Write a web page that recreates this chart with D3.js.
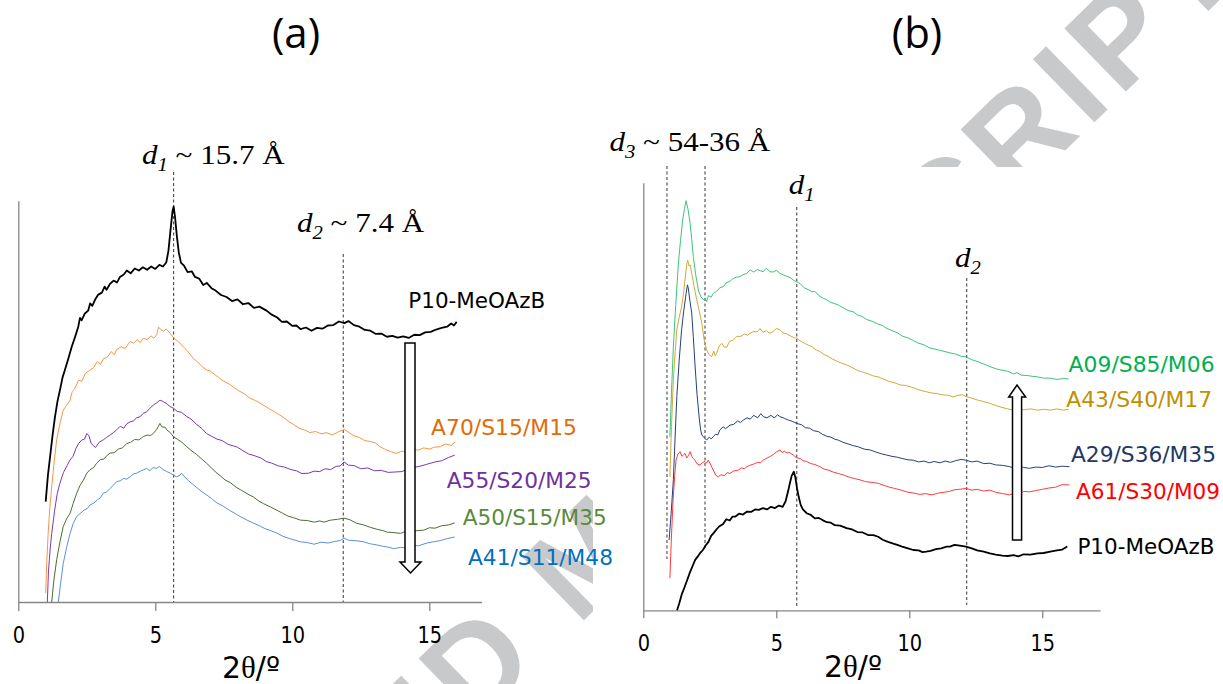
<!DOCTYPE html>
<html><head><meta charset="utf-8">
<script src="https://cdn.jsdelivr.net/npm/d3@7"></script>
<style>
html,body{margin:0;padding:0;background:#fff;}
svg{display:block;}
.sans{font-family:"DejaVu Sans",Verdana,sans-serif;}
.serif{font-family:"Liberation Serif","Times New Roman",serif;}
.wm{font-family:"Liberation Sans",Arial,sans-serif;font-weight:bold;}
</style>
</head><body>
<svg id="chart" width="1223" height="684"></svg>
<script>
// ---------------- DATA ----------------
const xTicks = [0, 5, 10, 15];
const panelTitles = ["(a)", "(b)"];
const axisTitle = "2θ/º";

// Panel (a) series: [2θ, intensity (a.u.)]
const aP10 = [[1.00,25.0],[1.08,31.5],[1.16,36.2],[1.25,41.5],[1.34,46.2],[1.43,50.0],[1.52,52.8],[1.61,55.8],[1.70,57.8],[1.82,60.5],[1.95,63.6],[2.07,66.0],[2.19,68.6],[2.25,70.8],[2.31,70.2],[2.43,71.9],[2.55,72.6],[2.62,74.4],[2.70,73.8],[2.80,75.3],[2.92,76.6],[3.05,77.1],[3.15,78.6],[3.22,77.8],[3.35,79.3],[3.48,80.1],[3.60,79.6],[3.71,81.0],[3.85,81.6],[3.96,82.6],[4.10,81.9],[4.25,83.1],[4.40,82.6],[4.55,83.4],[4.70,82.8],[4.85,83.6],[5.00,83.0],[5.15,84.0],[5.28,83.6],[5.40,84.6],[5.48,87.5],[5.56,93.0],[5.63,97.5],[5.67,98.5],[5.72,96.0],[5.79,91.0],[5.86,87.0],[5.94,84.5],[6.05,83.8],[6.18,82.2],[6.33,82.4],[6.45,81.0],[6.60,80.6],[6.75,79.0],[6.88,79.5],[7.05,78.2],[7.20,77.6],[7.40,76.5],[7.60,76.0],[7.80,75.0],[8.00,75.4],[8.20,74.2],[8.40,74.5],[8.60,73.3],[8.80,73.6],[9.06,72.6],[9.25,71.6],[9.45,70.9],[9.62,69.8],[9.80,69.9],[10.00,68.8],[10.15,68.9],[10.30,68.0],[10.50,68.4],[10.70,67.6],[10.90,68.3],[11.10,68.1],[11.30,68.9],[11.50,69.0],[11.70,69.9],[11.90,69.5],[12.05,70.0],[12.25,69.0],[12.45,68.6],[12.65,67.8],[12.85,67.6],[13.05,66.8],[13.25,66.9],[13.45,66.1],[13.65,66.3],[13.85,65.9],[14.05,66.2],[14.25,65.8],[14.45,66.6],[14.65,66.5],[14.85,67.2],[15.05,67.3],[15.25,67.9],[15.45,68.3],[15.65,68.6],[15.80,69.4],[15.90,68.9],[16.00,69.8]];
const aA70 = [[1.00,2.2],[1.04,10],[1.09,17.1],[1.15,23.5],[1.22,28.7],[1.31,35.0],[1.40,40.4],[1.52,44.5],[1.64,47.8],[1.76,49.0],[1.89,50.3],[1.97,52.5],[2.05,53.0],[2.20,55.3],[2.32,55.0],[2.45,57.0],[2.62,57.8],[2.75,58.4],[2.88,59.9],[3.00,59.2],[3.10,60.6],[3.25,61.0],[3.40,62.4],[3.50,61.6],[3.59,62.9],[3.75,63.6],[3.90,63.2],[4.08,64.9],[4.20,64.5],[4.35,65.4],[4.45,64.6],[4.56,65.7],[4.70,65.4],[4.85,66.3],[4.95,65.7],[5.05,66.6],[5.12,68.5],[5.20,67.9],[5.30,67.5],[5.40,68.0],[5.54,67.0],[5.66,65.9],[5.80,65.1],[5.90,64.5],[6.05,63.4],[6.20,62.3],[6.39,60.7],[6.55,59.8],[6.70,58.7],[6.87,57.8],[7.00,57.6],[7.11,57.0],[7.30,56.0],[7.50,55.0],[7.70,54.3],[7.84,53.6],[8.05,52.6],[8.25,51.9],[8.45,50.8],[8.65,50.2],[8.82,49.6],[9.05,48.6],[9.25,47.8],[9.45,47.0],[9.66,46.1],[9.85,45.1],[10.05,44.2],[10.25,43.3],[10.44,42.9],[10.65,42.2],[10.85,42.5],[11.05,41.9],[11.25,42.2],[11.45,41.6],[11.65,42.3],[11.90,43.0],[12.05,42.3],[12.25,41.4],[12.45,41.0],[12.65,40.2],[12.85,40.0],[13.04,39.6],[13.20,38.7],[13.40,38.0],[13.62,37.4],[13.80,37.0],[14.00,37.6],[14.20,37.2],[14.40,37.9],[14.62,37.9],[14.80,38.4],[15.00,38.1],[15.20,38.6],[15.40,38.7],[15.60,39.4],[15.80,39.0],[15.95,39.9]];
const aA55 = [[1.06,0],[1.10,7.5],[1.16,13.0],[1.22,17.1],[1.32,22.5],[1.42,27.0],[1.52,29.6],[1.65,32.3],[1.78,34.0],[1.89,35.4],[2.00,36.3],[2.10,38.2],[2.20,39.5],[2.32,40.4],[2.42,40.6],[2.50,42.0],[2.58,41.4],[2.66,39.5],[2.75,38.9],[2.82,38.5],[2.95,39.8],[3.10,40.4],[3.22,41.0],[3.35,41.6],[3.47,42.2],[3.59,42.9],[3.72,43.8],[3.85,43.3],[3.96,44.4],[4.08,44.9],[4.20,45.1],[4.32,45.9],[4.45,46.2],[4.56,47.0],[4.68,47.4],[4.80,48.2],[4.93,49.1],[5.05,49.6],[5.17,50.3],[5.27,50.0],[5.40,49.5],[5.54,48.7],[5.66,48.3],[5.80,47.5],[5.95,47.3],[6.15,46.2],[6.30,45.6],[6.50,44.3],[6.70,43.2],[6.87,42.0],[7.05,41.3],[7.25,40.6],[7.45,40.2],[7.65,39.3],[7.85,38.9],[7.99,38.6],[8.20,37.7],[8.40,36.9],[8.60,36.5],[8.85,35.9],[9.05,35.0],[9.25,34.6],[9.50,33.9],[9.72,33.6],[9.95,33.0],[10.15,32.7],[10.35,32.0],[10.59,32.1],[10.80,32.6],[11.00,32.5],[11.20,33.2],[11.40,33.0],[11.60,33.8],[11.75,33.9],[11.89,34.9],[12.05,34.1],[12.25,34.0],[12.50,33.2],[12.75,33.4],[13.00,32.7],[13.25,32.8],[13.50,32.3],[13.76,32.4],[14.00,32.5],[14.20,33.1],[14.49,33.6],[14.70,33.9],[14.95,34.4],[15.21,34.9],[15.45,35.2],[15.70,36.0],[15.93,36.6]];
const aA50 = [[1.22,0],[1.30,5.5],[1.40,10.5],[1.52,15.0],[1.64,18.8],[1.76,20.7],[1.89,22.1],[2.00,24.5],[2.13,27.1],[2.25,29.0],[2.38,30.4],[2.50,32.1],[2.62,33.0],[2.75,33.5],[2.86,34.6],[3.00,35.5],[3.12,35.6],[3.25,36.6],[3.35,37.1],[3.50,37.2],[3.65,38.1],[3.80,38.4],[3.96,39.5],[4.10,39.8],[4.25,40.5],[4.40,40.4],[4.56,41.2],[4.70,41.6],[4.83,41.5],[4.93,42.0],[5.05,43.0],[5.17,44.5],[5.25,43.6],[5.35,43.6],[5.42,42.9],[5.55,42.2],[5.66,41.2],[5.80,40.6],[5.95,39.9],[6.15,38.7],[6.30,37.8],[6.50,36.8],[6.70,35.6],[6.87,34.6],[7.05,33.4],[7.25,32.1],[7.40,31.3],[7.55,30.4],[7.75,29.7],[7.95,28.6],[8.15,27.8],[8.35,27.0],[8.57,26.2],[8.75,25.3],[8.95,24.5],[9.20,23.7],[9.43,22.9],[9.65,22.1],[9.85,21.4],[10.05,21.0],[10.30,20.4],[10.55,20.3],[10.80,19.9],[11.00,20.2],[11.16,19.9],[11.40,20.4],[11.65,20.6],[11.89,20.9],[12.10,20.5],[12.35,19.6],[12.61,19.2],[12.85,18.6],[13.10,18.1],[13.30,17.8],[13.47,17.4],[13.70,17.3],[13.95,17.1],[14.15,17.6],[14.34,17.2],[14.55,17.8],[14.80,17.9],[15.00,18.5],[15.21,18.4],[15.45,19.0],[15.70,19.2],[15.93,19.7]];
const aA41 = [[1.46,0],[1.55,5.0],[1.64,9.6],[1.76,13.5],[1.89,17.1],[2.00,19.5],[2.13,21.3],[2.25,22.0],[2.40,22.9],[2.52,23.3],[2.62,24.2],[2.75,24.6],[2.88,25.4],[3.00,26.0],[3.10,27.1],[3.22,27.4],[3.35,28.3],[3.47,29.1],[3.59,30.0],[3.72,30.2],[3.85,30.8],[3.96,30.6],[4.08,31.2],[4.20,31.9],[4.32,32.1],[4.45,32.6],[4.56,32.9],[4.68,33.3],[4.80,32.7],[4.92,33.5],[5.05,33.3],[5.15,33.8],[5.28,33.0],[5.42,32.5],[5.55,32.1],[5.66,31.6],[5.78,31.2],[5.90,31.6],[5.96,32.1],[6.05,31.3],[6.20,30.3],[6.39,29.2],[6.55,28.3],[6.70,27.5],[6.87,26.7],[7.05,25.8],[7.25,24.7],[7.45,24.0],[7.70,22.9],[7.90,22.1],[8.10,21.3],[8.35,20.4],[8.57,19.7],[8.80,19.0],[9.00,18.3],[9.20,17.8],[9.43,17.2],[9.65,16.4],[9.90,15.8],[10.10,15.4],[10.30,15.0],[10.55,14.8],[10.80,14.4],[11.05,14.9],[11.31,14.7],[11.55,15.1],[11.75,15.3],[11.89,15.9],[12.05,15.4],[12.30,15.3],[12.61,15.0],[12.85,14.5],[13.10,14.2],[13.30,13.9],[13.47,13.7],[13.70,13.3],[13.95,13.6],[14.20,13.5],[14.40,14.1],[14.60,14.0],[14.92,14.7],[15.15,15.0],[15.40,15.3],[15.65,15.8],[15.93,16.2]];

// Panel (b) series
const bA09 = [[1.00,40.6],[1.06,51.0],[1.13,61.6],[1.22,71.5],[1.32,81.2],[1.40,86.5],[1.48,91.3],[1.55,94.0],[1.61,95.8],[1.68,93.8],[1.76,90.5],[1.82,86.8],[1.88,82.7],[1.97,78.5],[2.07,74.9],[2.16,73.4],[2.26,72.6],[2.32,73.1],[2.38,72.2],[2.45,73.6],[2.55,73.2],[2.63,74.1],[2.75,74.6],[2.88,75.4],[3.01,75.7],[3.12,76.6],[3.25,76.9],[3.38,77.6],[3.50,77.9],[3.62,78.0],[3.75,78.5],[3.89,78.8],[4.02,79.6],[4.15,79.1],[4.28,79.7],[4.40,79.4],[4.51,79.2],[4.62,80.0],[4.75,79.2],[4.88,79.1],[5.00,79.5],[5.14,78.8],[5.28,78.4],[5.40,78.1],[5.55,77.7],[5.66,77.1],[5.77,76.8],[5.90,76.4],[6.05,75.4],[6.20,75.0],[6.35,74.5],[6.45,74.6],[6.58,73.7],[6.75,73.0],[6.90,72.6],[7.05,72.0],[7.20,71.7],[7.33,71.4],[7.50,70.8],[7.70,70.1],[7.90,69.8],[8.05,69.1],[8.23,68.7],[8.40,68.0],[8.60,67.6],[8.80,67.0],[9.00,66.6],[9.13,66.0],[9.35,65.4],[9.55,64.9],[9.75,64.1],[9.95,63.7],[10.15,63.1],[10.33,62.5],[10.55,62.1],[10.75,61.4],[10.95,61.1],[11.15,60.8],[11.35,60.5],[11.53,60.2],[11.75,59.9],[11.95,59.4],[12.13,59.3],[12.35,58.6],[12.55,58.2],[12.80,57.6],[13.03,57.0],[13.25,56.5],[13.45,56.2],[13.70,55.9],[13.92,55.3],[14.05,55.6],[14.20,55.0],[14.45,54.9],[14.65,54.7],[14.82,54.6],[15.05,54.3],[15.30,54.3],[15.55,54.0],[15.80,54.2],[15.99,54.1]];
const bA43 = [[1.00,31.2],[1.06,43.0],[1.13,53.9],[1.20,60.5],[1.26,65.6],[1.35,68.5],[1.44,71.0],[1.52,74.5],[1.58,78.0],[1.63,80.8],[1.67,81.9],[1.72,80.5],[1.76,80.8],[1.82,78.8],[1.90,76.0],[2.01,72.6],[2.10,70.1],[2.20,67.1],[2.28,63.5],[2.38,60.9],[2.47,59.8],[2.57,59.3],[2.65,60.6],[2.70,59.5],[2.76,60.1],[2.85,61.8],[2.95,62.4],[3.05,61.5],[3.14,61.6],[3.25,62.9],[3.38,63.2],[3.51,64.0],[3.65,64.0],[3.80,64.6],[3.92,64.3],[4.01,64.8],[4.15,65.2],[4.28,65.1],[4.39,65.9],[4.50,65.0],[4.62,65.4],[4.75,64.8],[4.89,65.2],[5.00,65.9],[5.14,65.6],[5.25,64.9],[5.40,64.6],[5.55,64.1],[5.66,63.8],[5.77,63.6],[5.90,63.0],[6.05,62.5],[6.20,62.0],[6.35,61.6],[6.50,60.9],[6.64,60.5],[6.80,59.8],[6.95,59.4],[7.10,58.8],[7.30,58.2],[7.45,57.8],[7.64,57.4],[7.85,56.8],[8.05,56.1],[8.25,55.7],[8.45,55.3],[8.65,54.8],[8.83,54.6],[9.05,54.0],[9.25,53.5],[9.45,53.2],[9.65,52.7],[9.85,52.6],[10.03,52.3],[10.25,51.8],[10.45,51.4],[10.65,51.1],[10.85,50.8],[11.05,50.7],[11.23,50.4],[11.45,50.3],[11.65,49.9],[11.85,50.3],[12.00,50.4],[12.13,50.0],[12.35,49.6],[12.55,49.2],[12.80,48.8],[13.03,48.4],[13.25,47.9],[13.45,47.5],[13.70,47.1],[13.93,46.8],[14.10,47.3],[14.30,46.9],[14.55,47.1],[14.82,46.8],[15.05,47.0],[15.30,46.8],[15.55,47.1],[15.80,46.8],[15.99,47.0]];
const bA29 = [[0.97,16.4],[1.05,23.0],[1.13,30.5],[1.20,41.0],[1.26,50.0],[1.35,58.5],[1.44,65.6],[1.52,70.0],[1.61,74.1],[1.66,76.1],[1.69,75.4],[1.75,72.5],[1.82,69.5],[1.88,64.0],[1.94,57.8],[2.02,50.5],[2.11,44.5],[2.16,42.0],[2.20,41.0],[2.30,40.3],[2.38,39.8],[2.48,40.5],[2.55,40.1],[2.63,40.6],[2.72,41.2],[2.80,41.0],[2.88,42.2],[3.00,42.9],[3.10,42.5],[3.26,43.3],[3.40,43.5],[3.55,44.3],[3.65,43.9],[3.76,44.5],[3.90,45.0],[4.02,44.7],[4.15,45.6],[4.30,45.0],[4.42,46.0],[4.51,45.3],[4.65,45.0],[4.80,45.6],[4.92,45.0],[5.05,45.7],[5.14,45.3],[5.30,44.9],[5.45,44.5],[5.60,44.2],[5.77,43.7],[5.95,43.4],[6.10,42.7],[6.25,42.6],[6.40,42.0],[6.58,41.8],[6.75,41.1],[6.90,40.7],[7.05,40.5],[7.20,40.0],[7.33,39.8],[7.50,39.3],[7.70,38.9],[7.90,38.5],[8.10,38.2],[8.30,37.7],[8.53,37.5],[8.75,37.0],[8.95,36.6],[9.15,36.3],[9.35,36.0],[9.55,35.8],[9.73,35.5],[9.95,35.2],[10.15,35.1],[10.35,34.7],[10.55,34.9],[10.75,34.5],[10.93,34.8],[11.15,34.5],[11.35,34.9],[11.55,34.6],[11.75,35.0],[11.95,35.3],[12.13,35.1],[12.35,34.7],[12.55,34.9],[12.80,34.3],[13.03,34.4],[13.25,34.0],[13.50,33.9],[13.77,33.6],[13.95,33.2],[14.10,33.8],[14.30,33.4],[14.52,33.2],[14.75,33.5],[15.00,33.4],[15.25,33.8],[15.50,33.5],[15.75,33.7],[16.02,33.6]];
const bA61 = [[1.00,7.5],[1.05,16.0],[1.12,25.8],[1.18,31.5],[1.23,35.1],[1.30,36.5],[1.38,37.1],[1.45,36.0],[1.52,36.4],[1.57,36.7],[1.63,35.6],[1.70,36.2],[1.76,37.1],[1.82,36.0],[1.88,35.5],[1.94,35.1],[2.03,34.2],[2.13,34.0],[2.22,34.5],[2.32,34.8],[2.38,34.4],[2.44,35.1],[2.52,34.2],[2.58,33.4],[2.63,32.8],[2.72,31.6],[2.82,31.2],[2.92,31.7],[3.05,31.5],[3.15,32.2],[3.26,32.0],[3.40,32.6],[3.55,32.7],[3.70,33.3],[3.80,33.1],[3.89,33.6],[4.00,33.9],[4.15,34.2],[4.30,34.6],[4.40,34.5],[4.51,35.1],[4.65,35.6],[4.78,36.0],[4.90,36.5],[5.00,37.0],[5.14,37.5],[5.22,36.9],[5.30,37.2],[5.40,36.8],[5.50,36.9],[5.64,36.3],[5.75,35.7],[5.90,35.5],[6.00,35.0],[6.14,34.8],[6.30,34.3],[6.45,34.1],[6.64,33.6],[6.80,33.0],[6.95,32.8],[7.15,32.3],[7.33,32.0],[7.55,31.6],[7.75,31.1],[7.95,30.8],[8.15,30.5],[8.35,30.1],[8.60,29.9],[8.83,29.7],[9.05,29.2],[9.25,28.8],[9.45,28.5],[9.70,28.1],[9.95,27.6],[10.18,27.4],[10.40,27.1],[10.60,27.3],[10.85,27.0],[11.08,27.4],[11.30,27.6],[11.50,27.8],[11.70,28.2],[11.90,28.3],[12.13,28.5],[12.35,28.1],[12.55,28.3],[12.80,27.9],[13.03,28.1],[13.25,27.6],[13.50,27.3],[13.77,27.0],[13.95,27.4],[14.10,26.9],[14.30,27.8],[14.52,27.7],[14.75,28.0],[15.00,28.3],[15.25,28.6],[15.50,28.8],[15.75,29.4],[16.02,29.3]];
const bP10 = [[1.27,0],[1.35,1.6],[1.45,3.8],[1.55,5.4],[1.65,7.1],[1.75,8.8],[1.85,10.3],[1.95,11.8],[2.05,12.6],[2.15,13.5],[2.24,14.1],[2.35,15.2],[2.45,16.0],[2.55,17.4],[2.65,18.1],[2.75,18.9],[2.85,19.6],[3.00,20.2],[3.12,21.3],[3.25,21.0],[3.35,21.9],[3.45,21.9],[3.60,22.6],[3.75,22.4],[3.90,23.1],[4.05,23.0],[4.20,23.6],[4.34,23.5],[4.50,23.9],[4.65,23.6],[4.80,24.2],[4.95,23.9],[5.10,24.5],[5.24,24.2],[5.35,25.5],[5.45,28.0],[5.51,29.7],[5.58,31.5],[5.66,32.4],[5.72,31.0],[5.78,28.5],[5.84,26.6],[5.92,24.6],[6.00,23.6],[6.14,22.7],[6.30,22.3],[6.45,21.5],[6.60,21.6],[6.74,21.1],[6.90,20.6],[7.05,20.5],[7.20,19.9],[7.40,19.8],[7.64,19.2],[7.85,18.9],[8.05,18.3],[8.25,18.2],[8.45,17.6],[8.65,17.6],[8.83,17.2],[9.00,16.5],[9.20,16.0],[9.40,15.6],[9.55,15.3],[9.73,14.9],[9.95,14.5],[10.15,14.1],[10.35,14.0],[10.50,13.6],[10.63,13.7],[10.80,13.9],[11.00,14.3],[11.20,14.5],[11.40,14.9],[11.53,14.9],[11.70,15.3],[11.90,15.1],[12.13,14.9],[12.35,14.5],[12.55,14.0],[12.80,13.7],[13.03,13.3],[13.25,13.0],[13.50,12.8],[13.70,12.7],[13.93,12.9],[14.10,12.6],[14.30,13.1],[14.55,13.0],[14.82,13.3],[15.05,13.4],[15.30,13.7],[15.55,14.0],[15.75,14.2],[15.94,14.9]];

// Reference lines (2θ positions)
const aRefLines = [5.67, 11.86];
const bRefLines = [0.89, 2.32, 5.77, 12.16];
const aSeriesNames = ["P10-MeOAzB", "A70/S15/M15", "A55/S20/M25", "A50/S15/M35", "A41/S11/M48"];
const bSeriesNames = ["A09/S85/M06", "A43/S40/M17", "A29/S36/M35", "A61/S30/M09", "P10-MeOAzB"];
const watermark = "ACCEPTED MANUSCRIPT";

// ---------------- DRAW ----------------
const svg = d3.select("#chart");
svg.append("rect").attr("width",1223).attr("height",684).attr("fill","#fff");

// watermark (background, partially covered by panel b)
svg.append("text").attr("class","wm").text(watermark)
  .attr("transform","translate(-6,1196) rotate(-44.3)")
  .attr("font-size",128).attr("fill","#c8c9cb")
  .attr("textLength",1745).attr("lengthAdjust","spacing");
svg.append("rect").attr("x",593).attr("y",167).attr("width",630).attr("height",517).attr("fill","#fff");

function squeeze(sel, f){
  sel.each(function(){
    const w = this.getComputedTextLength();
    d3.select(this).attr("textLength", w*f).attr("lengthAdjust","spacingAndGlyphs");
  });
}

function panel(cfg){
  const x = d3.scaleLinear().domain(cfg.xDomain).range(cfg.xRange);
  const y = d3.scaleLinear().domain([0,100]).range(cfg.yRange);
  const g = svg.append("g");
  cfg.refs.forEach((r,i)=>{
    g.append("line").attr("x1",x(r)).attr("x2",x(r))
      .attr("y1",cfg.refTop[i]).attr("y2",cfg.refBottom[i])
      .attr("stroke","#333").attr("stroke-width",1).attr("stroke-dasharray","3,2.5");
  });
  const xa = g.append("g").attr("transform",`translate(0,${cfg.yRange[0]})`)
    .call(d3.axisBottom(x).tickValues(xTicks).tickSize(cfg.tickSize).tickSizeOuter(0).tickPadding(cfg.tickPad));
  xa.select(".domain").attr("stroke","#868686").attr("stroke-width",1.3);
  xa.selectAll(".tick line").attr("stroke","#868686").attr("stroke-width",1.3);
  const tt = xa.selectAll(".tick text").attr("class","sans").attr("font-size",22.5).attr("fill","#000");
  squeeze(tt, 0.86);
  const ya = g.append("g").attr("transform",`translate(${cfg.xRange[0]},0)`)
    .call(d3.axisLeft(y).tickValues([]).tickSizeOuter(0));
  ya.select(".domain").attr("stroke","#868686").attr("stroke-width",1.3);
  const line = d3.line().x(d=>x(d[0])).y(d=>y(d[1]));
  cfg.series.forEach(s=>{
    g.append("path").datum(s.data).attr("d",line).attr("fill","none")
      .attr("stroke",s.color).attr("stroke-width",s.w).attr("stroke-linejoin","round");
  });
  return {x,y,g};
}

panel({
  xDomain:[0,16.91], xRange:[18.3,481.6], yRange:[602,200.7],
  tickSize:9, tickPad:16,
  refs:aRefLines, refTop:[172,254], refBottom:[602,602],
  series:[
    {data:aA41,color:"#5b8fdc",w:1},
    {data:aA50,color:"#4a6e32",w:1},
    {data:aA55,color:"#7a38b8",w:1},
    {data:aA70,color:"#f79646",w:1},
    {data:aP10,color:"#000",w:1.8}
  ]
});
panel({
  xDomain:[0,17.17], xRange:[643.3,1100], yRange:[610.3,182.7],
  tickSize:8, tickPad:16.5,
  refs:bRefLines, refTop:[166,166,207,278], refBottom:[559,548,608,605],
  series:[
    {data:bP10,color:"#000",w:1.8},
    {data:bA61,color:"#ff3b3b",w:1},
    {data:bA29,color:"#25407a",w:1},
    {data:bA43,color:"#d4a83a",w:1},
    {data:bA09,color:"#3cc47c",w:1}
  ]
});

// panel titles
[[panelTitles[0],296],[panelTitles[1],917]].forEach(([t,cx])=>{
  svg.append("text").text(t).attr("x",cx).attr("y",48).attr("text-anchor","middle")
    .attr("font-family","'Open Sans',sans-serif").attr("font-size",42).attr("fill","#000");
});

// axis titles
function axTitle(cx,by){
  const t = svg.append("text").attr("class","sans").attr("x",cx).attr("y",by)
    .attr("text-anchor","middle").attr("font-size",30).attr("fill","#000");
  t.append("tspan").text(axisTitle[0]);
  t.append("tspan").attr("class","serif").attr("font-size",31).text(axisTitle[1]);
  t.append("tspan").text(axisTitle.slice(2));
  t.attr("textLength",58).attr("lengthAdjust","spacingAndGlyphs");
}
axTitle(251,678);
axTitle(853,677);

// d-spacing labels (Times italic)
function dLabel(x0,by,sub,rest){
  const t = svg.append("text").attr("class","serif")
    .attr("transform",`translate(${x0},${by}) scale(1.15,1)`).attr("font-size",27).attr("fill","#000");
  t.append("tspan").attr("font-style","italic").text("d");
  t.append("tspan").attr("font-style","italic").attr("font-size",18).attr("dy",7).text(sub);
  if(rest) t.append("tspan").attr("dy",-7).text(rest);
}
dLabel(142,164,"1"," ~ 15.7 Å");
dLabel(297,232,"2"," ~ 7.4 Å");
dLabel(609.5,150.7,"3"," ~ 54-36 Å");
dLabel(788.7,194,"1",null);
dLabel(955,266.7,"2",null);

// series labels
function sLabel(txt,x0,by,color,len,size){
  svg.append("text").attr("class","sans").attr("x",x0).attr("y",by).text(txt)
    .attr("font-size",size||22).attr("fill",color)
    .attr("textLength",len).attr("lengthAdjust","spacingAndGlyphs");
}
sLabel(aSeriesNames[0],408.3,307.7,"#000",137);
sLabel(aSeriesNames[1],431,435,"#e26b0a",146);
sLabel(aSeriesNames[2],446.7,487.7,"#7030a0",145);
sLabel(aSeriesNames[3],462.7,525,"#5a8a3c",144);
sLabel(aSeriesNames[4],468,565,"#0070c0",145);
sLabel(bSeriesNames[0],1068.6,371.7,"#00b050",146);
sLabel(bSeriesNames[1],1066.2,407,"#bf9000",146);
sLabel(bSeriesNames[2],1071,462.3,"#1f3864",145,21.5);
sLabel(bSeriesNames[3],1076,499,"#ff0000",144,21.3);
sLabel(bSeriesNames[4],1077.4,554.3,"#000",137);

// block arrows
svg.append("path").attr("d","M405,343 H415 V562 H421 L410.5,573 L400,562 H405 Z")
  .attr("fill","#fff").attr("stroke","#000").attr("stroke-width",1.5);
svg.append("path").attr("d","M1012.5,540 H1021.6 V397 H1025.6 L1017,385 L1008.7,397 H1012.5 Z")
  .attr("fill","#fff").attr("stroke","#000").attr("stroke-width",1.5);
</script>
</body></html>
